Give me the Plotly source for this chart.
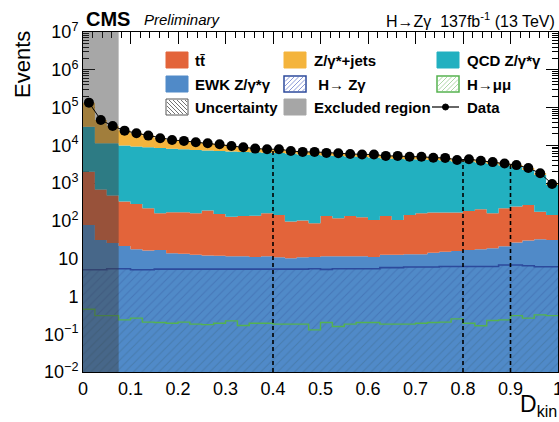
import numpy as np
import plotly.graph_objects as go

# ---------------- data ----------------
bin_width = 0.025
n_bins = 40
bin_edges = [round(i * bin_width, 4) for i in range(n_bins + 1)]

data_counts = [135000, 47000, 32600, 24500, 20900, 18100, 15400, 13900, 13100, 12100,
               11400, 10700, 9600, 8900, 8200, 7900, 7900, 7100, 6700, 6700,
               6300, 6200, 5900, 5700, 5700, 5250, 5250, 5000, 5000, 4700,
               4650, 4100, 4300, 3900, 3600, 3300, 3000, 2500, 1830, 950]

ewk = [78, 31, 26, 21.8, 17.8, 16.4, 16.9, 14.0, 13.5, 12.6,
       12.2, 12.0, 11.6, 11.6, 11.0, 11.6, 10.9, 10.3, 10.9, 11.0,
       11.6, 11.6, 11.6, 11.6, 11.0, 12.6, 12.6, 13.1, 13.1, 14.4,
       15.3, 15.9, 16.9, 17.8, 18.9, 21.3, 26.7, 30.1, 32.8, 31]

ttbar = [1920, 645, 441, 302, 264, 201, 143, 156, 156, 147,
         175, 141, 118, 124, 125, 148, 133, 86, 91, 76,
         124, 106, 124, 113, 95, 123, 93, 131, 147, 152,
         151, 150, 167, 186, 141, 196, 212, 235, 143, 113]

qcd = [29000, 10700, 10930, 9500, 9070, 8690, 8380, 8010, 7720, 7400,
       7140, 6960, 6770, 6550, 6430, 6250, 6160, 6010, 5640, 5480,
       5270, 5130, 4950, 4820, 4680, 4360, 4260, 4150, 4080, 3940,
       3820, 3580, 3570, 3330, 3060, 2720, 2440, 1970, 1470, 750]

zjets = [104000, 35600, 21200, 14700, 11550, 9190, 6860, 5720, 5210, 4540,
         4070, 3590, 2700, 2210, 1630, 1490, 1600, 990, 960, 1130,
         890, 950, 810, 760, 910, 750, 880, 710, 760, 590,
         660, 350, 550, 370, 380, 360, 320, 270, 180, 55]

h_zg = [5.1, 5.1, 5.4, 5.4, 5.1, 5.1, 5.3, 5.3, 5.3, 5.3,
        5.3, 5.3, 5.3, 5.3, 5.3, 5.3, 5.3, 5.3, 5.3, 5.4,
        5.2, 5.4, 5.4, 5.4, 5.4, 5.8, 5.8, 6.0, 6.0, 6.0,
        6.2, 6.2, 6.2, 6.2, 6.2, 6.8, 6.8, 6.5, 6.1, 6.1]

h_mumu = [0.46, 0.31, 0.31, 0.24, 0.266, 0.209, 0.205, 0.196, 0.209, 0.185,
          0.18, 0.196, 0.226, 0.17, 0.196, 0.196, 0.185, 0.185, 0.185, 0.13,
          0.205, 0.16, 0.185, 0.205, 0.205, 0.185, 0.185, 0.185, 0.196, 0.205,
          0.209, 0.255, 0.196, 0.167, 0.231, 0.24, 0.31, 0.266, 0.326, 0.31]

excluded_range = [0.0, 0.075]
category_boundaries = [0.4, 0.8, 0.9]

x_tick_vals = [0, 0.1, 0.2, 0.3, 0.4, 0.5, 0.6, 0.7, 0.8, 0.9, 1.0]
x_tick_text = ["0", "0.1", "0.2", "0.3", "0.4", "0.5", "0.6", "0.7", "0.8", "0.9", "1"]
y_tick_vals = [1e-2, 1e-1, 1, 10, 1e2, 1e3, 1e4, 1e5, 1e6, 1e7]
y_tick_text = ["10<sup>\u22122</sup>", "10<sup>\u22121</sup>", "1", "10", "10<sup>2</sup>",
               "10<sup>3</sup>", "10<sup>4</sup>", "10<sup>5</sup>", "10<sup>6</sup>", "10<sup>7</sup>"]

# ---------------- styling ----------------
FONT = "Liberation Sans, Arial, Helvetica, sans-serif"
C_EWK = "#508ac8"
C_TT = "#e3643a"
C_QCD = "#22b0c0"
C_ZJ = "#f4b43c"
C_HZG = "#2c4a9c"
C_HMM = "#55b24f"
C_EXCL = "rgba(60,60,60,0.45)"

W, H = 559, 422
ML, MR, MT, MB = 83, 1, 32, 50
PW, PH = W - ML - MR, H - MT - MB

cum1 = np.array(ewk, dtype=float)
cum2 = cum1 + np.array(ttbar)
cum3 = cum2 + np.array(qcd)
cum4 = cum3 + np.array(zjets)
floor = 1e-3


def step_y(vals):
    v = list(vals)
    return v + [v[-1]]


fig = go.Figure()


def baseline():
    fig.add_trace(go.Scatter(x=bin_edges, y=[floor] * len(bin_edges), mode="lines",
                             line=dict(width=0), hoverinfo="skip", showlegend=False))


baseline()
for cum, col in [(cum1, C_EWK), (cum2, C_TT), (cum3, C_QCD), (cum4, C_ZJ)]:
    fig.add_trace(go.Scatter(x=bin_edges, y=step_y(cum), mode="lines", line_shape="hv",
                             line=dict(width=0, color=col), fill="tonexty", fillcolor=col,
                             showlegend=False))

# signal: H -> Z gamma (hatched)
baseline()
fig.add_trace(go.Scatter(x=bin_edges, y=step_y(h_zg), mode="lines", line_shape="hv",
                         line=dict(width=1.6, color=C_HZG), fill="tonexty",
                         fillcolor="rgba(0,0,0,0)",
                         fillpattern=dict(shape="/", fgcolor="rgba(35,55,130,0.45)",
                                          bgcolor="rgba(0,0,0,0)", size=6, solidity=0.18),
                         showlegend=False))
# H -> mu mu
baseline()
fig.add_trace(go.Scatter(x=bin_edges, y=step_y(h_mumu), mode="lines", line_shape="hv",
                         line=dict(width=1.4, color=C_HMM), fill="tonexty",
                         fillcolor="rgba(0,0,0,0)",
                         fillpattern=dict(shape="/", fgcolor="rgba(85,178,79,0.25)",
                                          bgcolor="rgba(0,0,0,0)", size=6, solidity=0.15),
                         showlegend=False))

# excluded region
ex0, ex1 = excluded_range
fig.add_trace(go.Scatter(x=[ex0, ex1, ex1, ex0, ex0], y=[floor, floor, 1e8, 1e8, floor],
                         mode="lines", line=dict(width=0), fill="toself", fillcolor=C_EXCL,
                         showlegend=False, hoverinfo="skip"))

# category boundaries (dashed)
for b in category_boundaries:
    idx = int(round(b / bin_width))
    fig.add_trace(go.Scatter(x=[b, b], y=[1e-2, cum4[idx]], mode="lines",
                             line=dict(color="black", width=1.6, dash="4px,3px"),
                             showlegend=False))

# data
centers = [(bin_edges[i] + bin_edges[i + 1]) / 2 for i in range(n_bins)]
fig.add_trace(go.Scatter(x=centers, y=data_counts, mode="markers+lines",
                         marker=dict(color="black", size=10),
                         line=dict(color="black", width=1), showlegend=False))

# ---------------- legend (manual) ----------------
def X(px):
    return (px - ML) / PW


def Y(py):
    return (H - MB - py) / PH


shapes = []
annotations = []


def rect(x0, y0, x1, y1, fill, line_color=None, lw=1):
    shapes.append(dict(type="rect", xref="paper", yref="paper",
                       x0=X(x0), x1=X(x1), y0=Y(y1), y1=Y(y0),
                       fillcolor=fill, line=dict(color=line_color or fill, width=lw),
                       layer="above"))


def hatch(x0, y0, x1, y1, color, spacing=4.5, forward=True):
    h = y1 - y0
    c = x0 - h
    while c < x1:
        tlo = max(0.0, x0 - c)
        thi = min(h, x1 - c)
        if tlo < thi:
            if forward:
                pa = (c + tlo, y1 - tlo)
                pb = (c + thi, y1 - thi)
            else:
                pa = (c + tlo, y0 + tlo)
                pb = (c + thi, y0 + thi)
            shapes.append(dict(type="line", xref="paper", yref="paper",
                               x0=X(pa[0]), y0=Y(pa[1]), x1=X(pb[0]), y1=Y(pb[1]),
                               line=dict(color=color, width=1), layer="above"))
        c += spacing


def label(px, py, text, size=15):
    annotations.append(dict(xref="paper", yref="paper", x=X(px), y=Y(py), text=text,
                            showarrow=False, xanchor="left", yanchor="middle",
                            font=dict(family=FONT, size=size, color="black")))


cols = [166, 284, 437]
rows = [60, 84, 107]
sw, sh = 22, 16

# row 1
rect(cols[0], rows[0] - sh / 2, cols[0] + sw, rows[0] + sh / 2, C_TT)
label(cols[0] + 27, rows[0], "<b>tt\u0304</b>")
rect(cols[1], rows[0] - sh / 2, cols[1] + sw, rows[0] + sh / 2, C_ZJ)
label(cols[1] + 28, rows[0], "<b>Z/\u03b3*+jets</b>")
rect(cols[2], rows[0] - sh / 2, cols[2] + sw, rows[0] + sh / 2, C_QCD)
label(cols[2] + 28, rows[0], "<b>QCD Z/\u03b3*\u03b3</b>")
# row 2
rect(cols[0], rows[1] - sh / 2, cols[0] + sw, rows[1] + sh / 2, C_EWK)
label(cols[0] + 27, rows[1], "<b>EWK Z/\u03b3*\u03b3</b>")
rect(cols[1], rows[1] - sh / 2, cols[1] + sw, rows[1] + sh / 2, "white", C_HZG, 1.5)
hatch(cols[1] + 1, rows[1] - sh / 2 + 1, cols[1] + sw - 1, rows[1] + sh / 2 - 1, "rgba(90,110,200,0.7)")
label(cols[1] + 28, rows[1], "<b> H\u2192 Z\u03b3</b>")
rect(cols[2], rows[1] - sh / 2, cols[2] + sw, rows[1] + sh / 2, "white", C_HMM, 1.5)
hatch(cols[2] + 1, rows[1] - sh / 2 + 1, cols[2] + sw - 1, rows[1] + sh / 2 - 1, "rgba(120,190,110,0.6)")
label(cols[2] + 28, rows[1], "<b>H\u2192\u03bc\u03bc</b>")
# row 3
rect(cols[0], rows[2] - sh / 2, cols[0] + sw, rows[2] + sh / 2, "white", "#555555", 1)
hatch(cols[0] + 1, rows[2] - sh / 2 + 1, cols[0] + sw - 1, rows[2] + sh / 2 - 1, "rgba(80,80,80,0.8)", 4, False)
label(cols[0] + 27, rows[2], "<b>Uncertainty</b>")
rect(cols[1], rows[2] - sh / 2, cols[1] + sw, rows[2] + sh / 2, "#a6a6a6")
label(cols[1] + 28, rows[2], "<b>Excluded region</b>")
shapes.append(dict(type="line", xref="paper", yref="paper", x0=X(cols[2] - 5), x1=X(cols[2] + sw),
                   y0=Y(rows[2]), y1=Y(rows[2]), line=dict(color="black", width=1.2), layer="above"))
shapes.append(dict(type="circle", xref="paper", yref="paper",
                   x0=X(cols[2] + 5.5), x1=X(cols[2] + 11.5), y0=Y(rows[2] + 3), y1=Y(rows[2] - 3),
                   fillcolor="black", line=dict(color="black", width=1), layer="above"))
label(cols[2] + 28, rows[2], "<b>Data</b>")

# header
label(84, 19, "<b>CMS</b>", 20)
label(142, 20, "<i>Preliminary</i>", 15)
annotations.append(dict(xref="paper", yref="paper", x=X(557), y=Y(20), showarrow=False,
                        xanchor="right", yanchor="middle",
                        text="H\u2192Z\u03b3  137fb<sup>-1</sup> (13 TeV)",
                        font=dict(family=FONT, size=16, color="black")))
# axis titles
annotations.append(dict(xref="paper", yref="paper", x=X(22), y=Y(65), showarrow=False,
                        xanchor="center", yanchor="middle", textangle=-90, text="Events",
                        font=dict(family=FONT, size=22, color="black")))
annotations.append(dict(xref="paper", yref="paper", x=X(559), y=Y(405), showarrow=False,
                        xanchor="right", yanchor="middle", text="D<sub>kin</sub>",
                        font=dict(family=FONT, size=23, color="black")))

minor_y = [k * 10 ** e for e in range(-2, 7) for k in range(2, 10)]

fig.update_layout(
    width=W, height=H,
    margin=dict(l=ML, r=MR, t=MT, b=MB, pad=0, autoexpand=False),
    paper_bgcolor="white", plot_bgcolor="white",
    font=dict(family=FONT, color="black"),
    showlegend=False,
    shapes=shapes, annotations=annotations,
    xaxis=dict(range=[0, 1], tickmode="array", tickvals=x_tick_vals, ticktext=x_tick_text,
               ticks="inside", ticklen=12, tickwidth=1, tickcolor="black",
               showline=True, linecolor="black", linewidth=1, mirror="allticks",
               showgrid=False, zeroline=False, layer="below traces",
               ticklabeloverflow="allow", automargin=False,
               tickfont=dict(family=FONT, size=18, color="black"),
               minor=dict(ticks="inside", ticklen=6, tickcolor="black", dtick=0.02, showgrid=False)),
    yaxis=dict(type="log", range=[-2, 7], tickmode="array", tickvals=y_tick_vals, ticktext=y_tick_text,
               ticks="inside", ticklen=12, tickwidth=1, tickcolor="black",
               showline=True, linecolor="black", linewidth=1, mirror="allticks",
               showgrid=False, zeroline=False, layer="below traces", automargin=False,
               tickfont=dict(family=FONT, size=18, color="black"),
               minor=dict(ticks="inside", ticklen=6, tickcolor="black", tickmode="array",
                          tickvals=minor_y, showgrid=False)),
)

fig.write_html("out.html")
